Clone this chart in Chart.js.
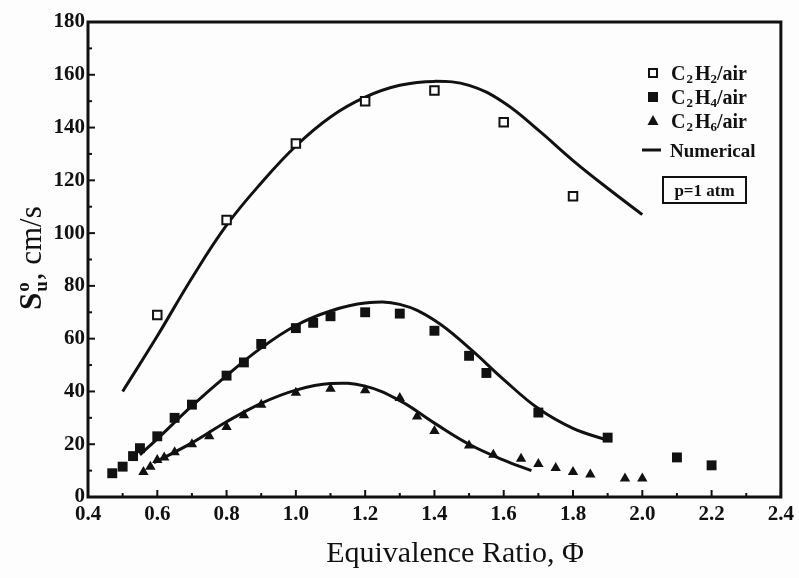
<!DOCTYPE html>
<html>
<head>
<meta charset="utf-8">
<script src="https://cdn.jsdelivr.net/npm/chart.js@4.4.0/dist/chart.umd.min.js"></script>
<style>
  html, body { margin: 0; padding: 0; background: #fdfdfd; }
  #wrap { width: 799px; height: 578px; }
</style>
</head>
<body>
<div id="wrap"><canvas id="chart" width="799" height="578"></canvas></div>
<script>
// données (vitesse de flamme laminaire, p = 1 atm)
const c2h2Phi = [0.6, 0.8, 1.0, 1.2, 1.4, 1.6, 1.8];
const c2h2Su  = [69, 105, 134, 150, 154, 142, 114];

const c2h4Phi = [0.47, 0.5, 0.53, 0.55, 0.6, 0.65, 0.7, 0.8, 0.85, 0.9, 1.0, 1.05, 1.1, 1.2, 1.3, 1.4, 1.5, 1.55, 1.7, 1.9, 2.1, 2.2];
const c2h4Su  = [9, 11.5, 15.5, 18.5, 23, 30, 35, 46, 51, 58, 64, 66, 68.5, 70, 69.5, 63, 53.5, 47, 32, 22.5, 15, 12];

const c2h6Phi = [0.56, 0.58, 0.6, 0.62, 0.65, 0.7, 0.75, 0.8, 0.85, 0.9, 1.0, 1.1, 1.2, 1.3, 1.35, 1.4, 1.5, 1.57, 1.65, 1.7, 1.75, 1.8, 1.85, 1.95, 2.0];
const c2h6Su  = [9.5, 11.5, 14, 15, 17, 20, 23, 26.5, 31, 35, 39.5, 41, 40.5, 37.5, 30.5, 25, 19.5, 16, 14.5, 12.5, 11, 9.5, 8.5, 7, 7];

// courbes numériques
const numC2h2Phi = [0.5, 0.6, 0.7, 0.8, 0.9, 1.0, 1.1, 1.2, 1.3, 1.4, 1.5, 1.6, 1.7, 1.8, 1.9, 2.0];
const numC2h2Su  = [40, 61, 83, 103, 119, 133, 144, 151.5, 156, 157.5, 156, 149.5, 139, 127.5, 117, 107];
const numC2h4Phi = [0.55, 0.6, 0.7, 0.8, 0.9, 1.0, 1.1, 1.2, 1.3, 1.4, 1.5, 1.6, 1.7, 1.8, 1.9];
const numC2h4Su  = [16, 22, 34.5, 46, 56.5, 65, 70.5, 73.5, 73, 67, 56.5, 44.5, 33.5, 26, 21.5];
const numC2h6Phi = [0.59, 0.7, 0.8, 0.9, 1.0, 1.1, 1.2, 1.3, 1.4, 1.5, 1.6, 1.68];
const numC2h6Su  = [13, 20.5, 28.5, 35.5, 40.5, 43, 42, 36.5, 28, 20, 14, 10];

const xTicks = [0.4, 0.6, 0.8, 1.0, 1.2, 1.4, 1.6, 1.8, 2.0, 2.2, 2.4];
const yTicks = [0, 20, 40, 60, 80, 100, 120, 140, 160, 180];

const serif = "'Liberation Serif', 'DejaVu Serif', serif";
const paper = "#fdfdfd";
const ink = "#111";

function pts(xs, ys) {
    return xs.map((x, i) => ({ x: x, y: ys[i] }));
}

function lineSet(label, xs, ys) {
    return {
        label: label,
        data: pts(xs, ys),
        showLine: true,
        borderColor: ink,
        borderWidth: 3,
        pointRadius: 0,
        tension: 0.4,
        fill: false
    };
}

// cadre, graduations vers l'intérieur, titres et légende
const decorPlugin = {
    id: "decor",
    afterDraw(chart) {
        const ctx = chart.ctx;
        const area = chart.chartArea;
        const xs = chart.scales.x;
        const ys = chart.scales.y;
        ctx.save();
        ctx.strokeStyle = ink;
        ctx.fillStyle = ink;

        ctx.lineWidth = 3;
        ctx.strokeRect(area.left, area.top, area.right - area.left, area.bottom - area.top);

        ctx.lineWidth = 2;
        for (let i = 4; i <= 24; i++) {
            const px = xs.getPixelForValue(i / 10);
            const len = i % 2 === 0 ? 7 : 4;
            ctx.beginPath();
            ctx.moveTo(px, area.bottom);
            ctx.lineTo(px, area.bottom - len);
            ctx.stroke();
        }
        for (let v = 0; v <= 180; v += 10) {
            const py = ys.getPixelForValue(v);
            const len = v % 20 === 0 ? 7 : 4;
            ctx.beginPath();
            ctx.moveTo(area.left, py);
            ctx.lineTo(area.left + len, py);
            ctx.stroke();
        }

        // titre axe x
        ctx.font = "30px " + serif;
        ctx.textAlign = "center";
        ctx.textBaseline = "alphabetic";
        ctx.fillText("Equivalence Ratio, \u03A6", 455, 562);

        // titre axe y : S, exposant o, indice u
        ctx.save();
        ctx.translate(41, 248);
        ctx.rotate(-Math.PI / 2);
        ctx.textAlign = "left";
        let x0 = -62;
        ctx.font = "bold 31px " + serif;
        ctx.fillText("S", x0, 0);
        x0 += ctx.measureText("S").width + 1;
        ctx.font = "bold 19px " + serif;
        ctx.fillText("o", x0, -12);
        ctx.fillText("u", x0, 6);
        x0 += ctx.measureText("o").width + 2;
        ctx.font = "31px " + serif;
        ctx.fillText(", cm/s", x0, 0);
        ctx.restore();

        // légende
        const lx = 653;
        const tx = 671;
        const rows = [73, 97, 121];
        const subs = ["2", "4", "6"];
        ctx.lineWidth = 2;
        ctx.fillStyle = paper;
        ctx.fillRect(lx - 4, rows[0] - 4, 8, 8);
        ctx.strokeRect(lx - 4, rows[0] - 4, 8, 8);
        ctx.fillStyle = ink;
        ctx.fillRect(lx - 5, rows[1] - 5, 10, 10);
        ctx.beginPath();
        ctx.moveTo(lx, rows[2] - 6);
        ctx.lineTo(lx + 5.5, rows[2] + 4);
        ctx.lineTo(lx - 5.5, rows[2] + 4);
        ctx.closePath();
        ctx.fill();

        ctx.textAlign = "left";
        rows.forEach((ry, i) => {
            let x = tx;
            const base = ry + 7;
            ctx.font = "bold 20px " + serif;
            ctx.fillText("C", x, base);
            x += ctx.measureText("C").width + 1;
            ctx.font = "bold 13px " + serif;
            ctx.fillText("2", x, base + 3);
            x += ctx.measureText("2").width + 2;
            ctx.font = "bold 20px " + serif;
            ctx.fillText("H", x, base);
            x += ctx.measureText("H").width;
            ctx.font = "bold 13px " + serif;
            ctx.fillText(subs[i], x, base + 3);
            x += ctx.measureText(subs[i]).width;
            ctx.font = "bold 20px " + serif;
            ctx.fillText("/air", x, base);
        });

        ctx.lineWidth = 3;
        ctx.beginPath();
        ctx.moveTo(642, 150);
        ctx.lineTo(661, 150);
        ctx.stroke();
        ctx.font = "bold 19px " + serif;
        ctx.fillText("Numerical", 670, 157);

        ctx.lineWidth = 2;
        ctx.strokeRect(663, 177, 83, 26);
        ctx.font = "bold 17px " + serif;
        ctx.textAlign = "center";
        ctx.fillText("p=1 atm", 704.5, 196);

        ctx.restore();
    }
};

const ctx = document.getElementById("chart").getContext("2d");

new Chart(ctx, {
    type: "scatter",
    data: {
        datasets: [
            {
                label: "C2H2/air",
                data: pts(c2h2Phi, c2h2Su),
                pointStyle: "rect",
                pointRadius: 6,
                pointBorderWidth: 2,
                pointBackgroundColor: paper,
                pointBorderColor: ink
            },
            {
                label: "C2H4/air",
                data: pts(c2h4Phi, c2h4Su),
                pointStyle: "rect",
                pointRadius: 7,
                pointBorderWidth: 0,
                pointBackgroundColor: ink,
                pointBorderColor: ink
            },
            {
                label: "C2H6/air",
                data: pts(c2h6Phi, c2h6Su),
                pointStyle: "triangle",
                pointRadius: 6,
                pointBorderWidth: 0,
                pointBackgroundColor: ink,
                pointBorderColor: ink
            },
            lineSet("Numerical", numC2h2Phi, numC2h2Su),
            lineSet("Numerical C2H4", numC2h4Phi, numC2h4Su),
            lineSet("Numerical C2H6", numC2h6Phi, numC2h6Su)
        ]
    },
    options: {
        responsive: false,
        animation: false,
        devicePixelRatio: 1,
        layout: { padding: { left: 0, right: 11, top: 22, bottom: 0 } },
        plugins: {
            legend: { display: false },
            tooltip: { enabled: false }
        },
        scales: {
            x: {
                type: "linear",
                min: 0.4,
                max: 2.4,
                afterBuildTicks: (scale) => { scale.ticks = xTicks.map(v => ({ value: v })); },
                afterFit: (scale) => { scale.height = 81; },
                grid: { display: false, drawTicks: false },
                border: { display: false },
                ticks: {
                    color: ink,
                    padding: 5,
                    maxRotation: 0,
                    autoSkip: false,
                    font: { family: serif, size: 21, weight: "bold" },
                    callback: (v) => Number(v).toFixed(1)
                }
            },
            y: {
                type: "linear",
                min: 0,
                max: 180,
                afterBuildTicks: (scale) => { scale.ticks = yTicks.map(v => ({ value: v })); },
                afterFit: (scale) => { scale.width = 88; },
                grid: { display: false, drawTicks: false },
                border: { display: false },
                ticks: {
                    color: ink,
                    padding: 3,
                    autoSkip: false,
                    font: { family: serif, size: 21, weight: "bold" }
                }
            }
        }
    },
    plugins: [decorPlugin]
});
</script>
</body>
</html>
